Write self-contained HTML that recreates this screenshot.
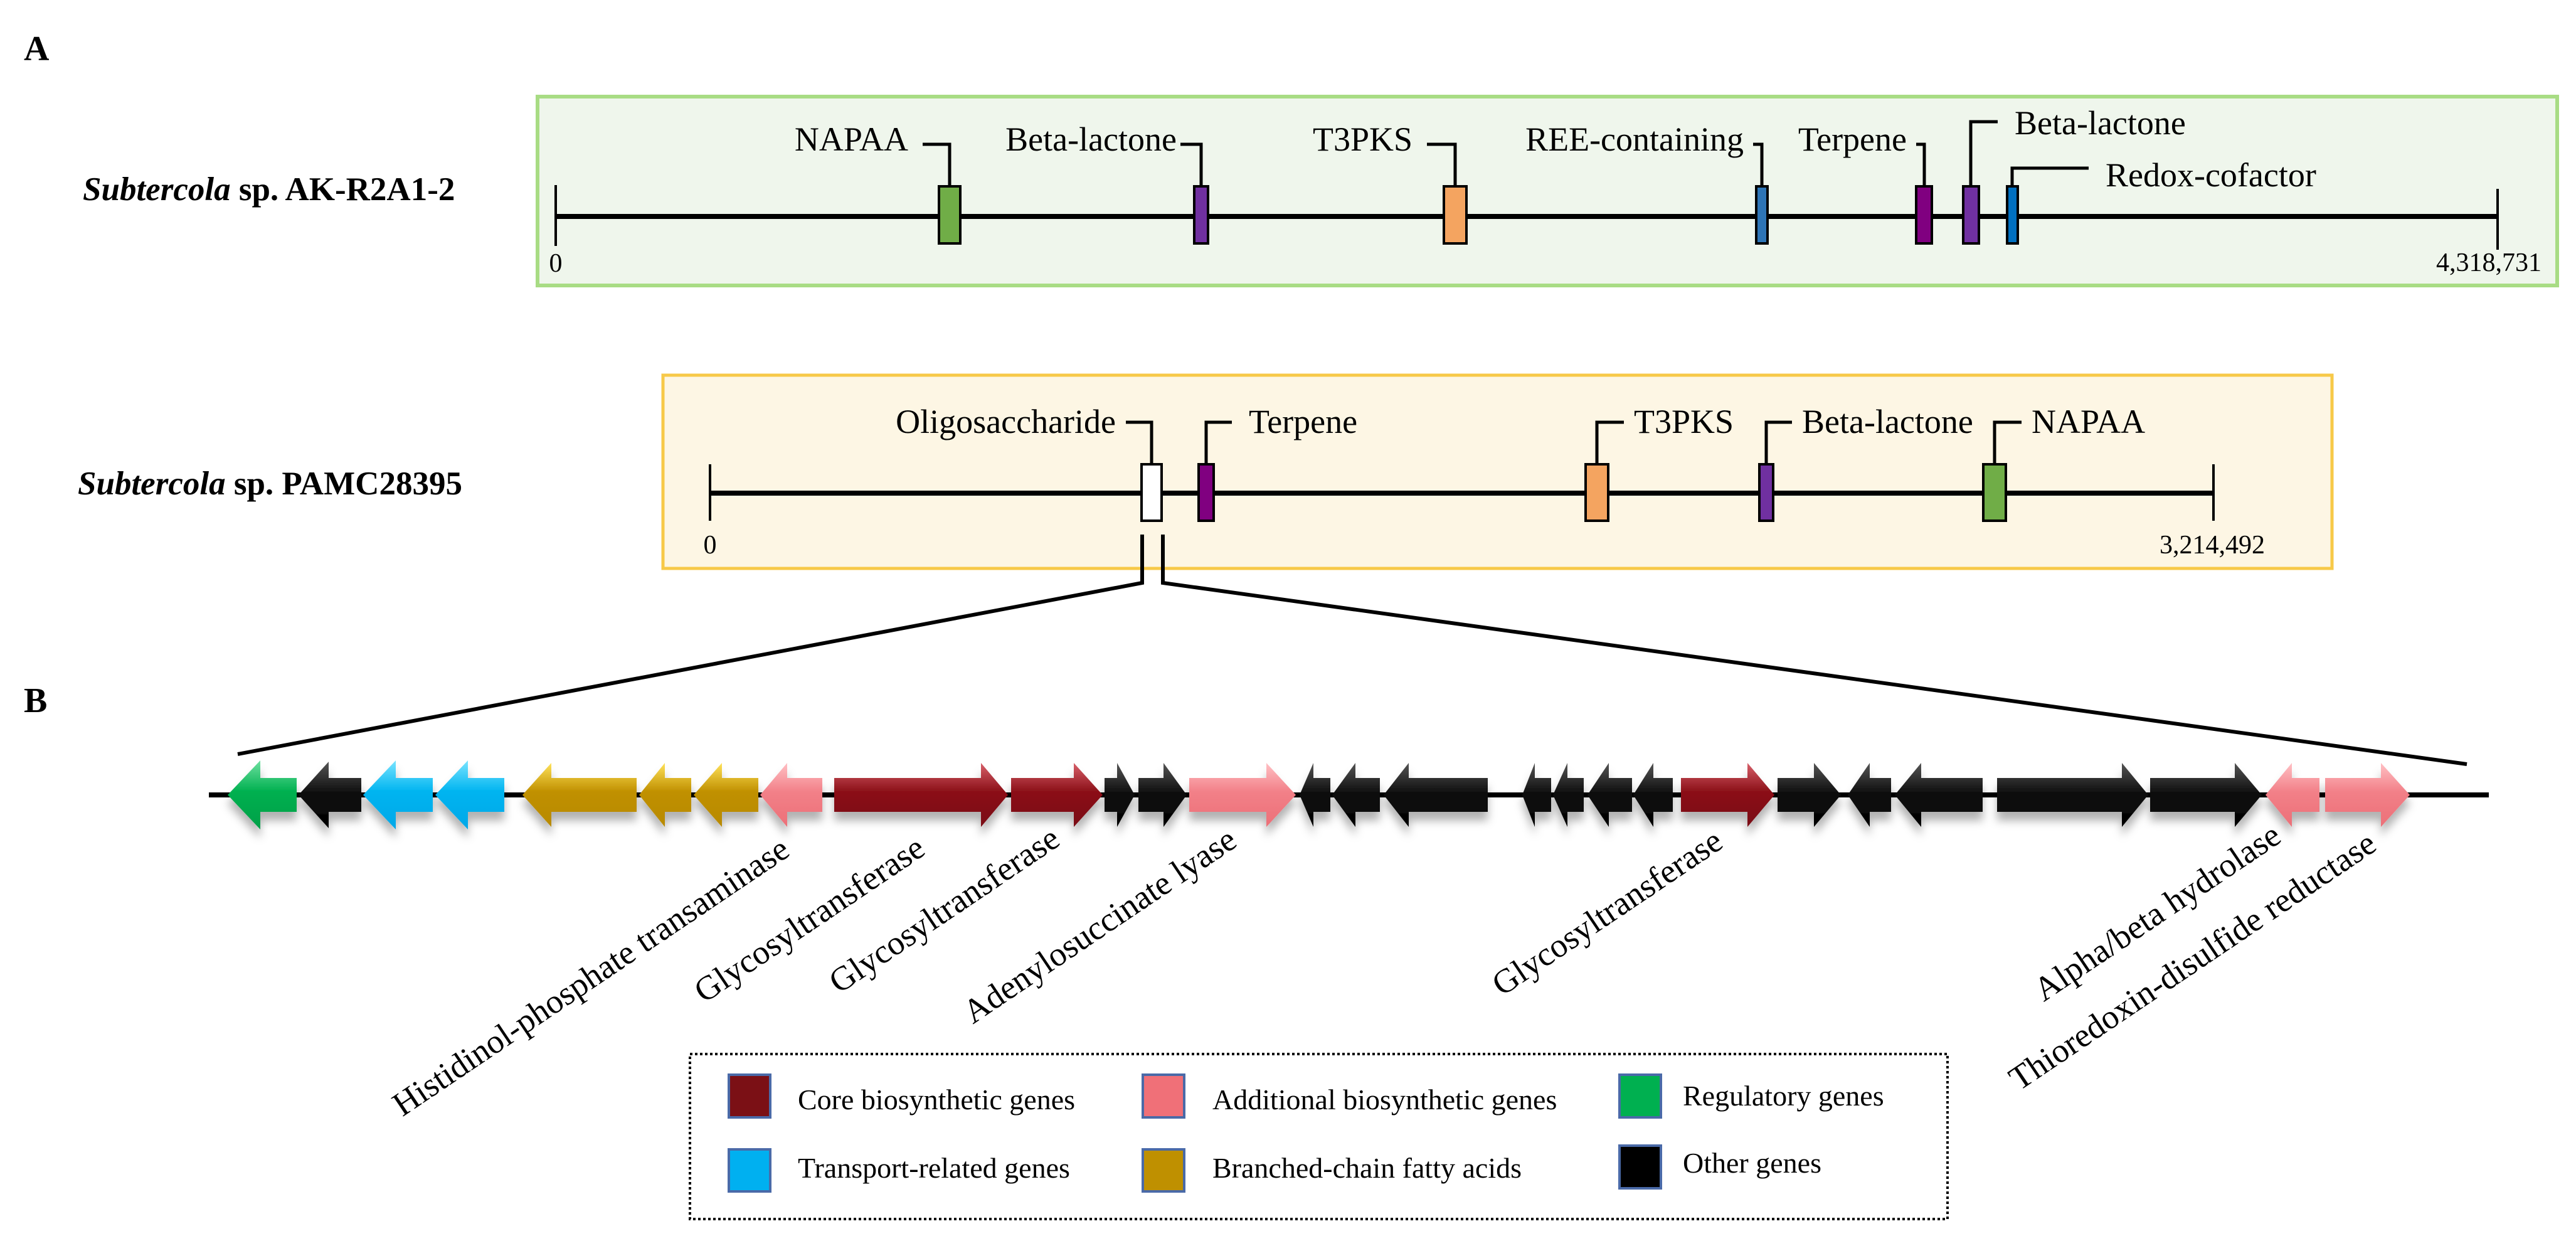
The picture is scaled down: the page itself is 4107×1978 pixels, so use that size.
<!DOCTYPE html>
<html><head><meta charset="utf-8"><style>
html,body{margin:0;padding:0;background:#fff;}
svg{display:block;}
text{font-family:"Liberation Serif","Times New Roman",serif;fill:#000;}
</style></head><body>
<svg width="4107" height="1978" viewBox="0 0 4107 1978" xmlns="http://www.w3.org/2000/svg">
<defs>
<filter id="sh" x="-10%" y="-20%" width="120%" height="160%"><feDropShadow dx="0" dy="14" stdDeviation="7" flood-color="#000" flood-opacity="0.3"/></filter>
<linearGradient id="gG" x1="0" y1="0" x2="0" y2="1"><stop offset="0" stop-color="#6fe0a0"/><stop offset="0.45" stop-color="#00b050"/><stop offset="1" stop-color="#00a048"/></linearGradient>
<linearGradient id="gK" x1="0" y1="0" x2="0" y2="1"><stop offset="0" stop-color="#555"/><stop offset="0.45" stop-color="#111"/><stop offset="1" stop-color="#000"/></linearGradient>
<linearGradient id="gB" x1="0" y1="0" x2="0" y2="1"><stop offset="0" stop-color="#7ae4ff"/><stop offset="0.45" stop-color="#00b4f0"/><stop offset="1" stop-color="#00a8e8"/></linearGradient>
<linearGradient id="gY" x1="0" y1="0" x2="0" y2="1"><stop offset="0" stop-color="#ffe25a"/><stop offset="0.45" stop-color="#c09000"/><stop offset="1" stop-color="#b88a00"/></linearGradient>
<linearGradient id="gP" x1="0" y1="0" x2="0" y2="1"><stop offset="0" stop-color="#ffc0c4"/><stop offset="0.45" stop-color="#f28088"/><stop offset="1" stop-color="#ec7078"/></linearGradient>
<linearGradient id="gR" x1="0" y1="0" x2="0" y2="1"><stop offset="0" stop-color="#d8606a"/><stop offset="0.45" stop-color="#8b1018"/><stop offset="1" stop-color="#7a0c14"/></linearGradient>
</defs>

<text x="38" y="96" font-size="56" font-weight="bold">A</text>
<rect x="857" y="154" width="3220" height="301" fill="#eff6ec" stroke="#a8dc84" stroke-width="6"/>
<text x="132" y="319" font-size="53" font-weight="bold"><tspan font-style="italic">Subtercola</tspan> sp. AK-R2A1-2</text>
<line x1="886" y1="345" x2="3982" y2="345" stroke="#000" stroke-width="8"/>
<line x1="886" y1="295" x2="886" y2="392" stroke="#000" stroke-width="4"/>
<line x1="3982" y1="301" x2="3982" y2="398" stroke="#000" stroke-width="4"/>
<text x="886" y="433" font-size="42" text-anchor="middle">0</text>
<text x="4052" y="432" font-size="42" text-anchor="end">4,318,731</text>
<g fill="none" stroke="#000" stroke-width="5">
<polyline points="1471,230 1514,230 1514,297"/>
<polyline points="1882,230 1915,230 1915,297"/>
<polyline points="2275,230 2320,230 2320,297"/>
<polyline points="2795,230 2809,230 2809,297"/>
<polyline points="3055,230 3068,230 3068,297"/>
<polyline points="3185,194 3142,194 3142,297"/>
<polyline points="3330,268 3208,268 3208,297"/>
</g>
<g stroke="#000" stroke-width="4">
<rect x="1497" y="297" width="34" height="91" fill="#70ad47"/>
<rect x="1904" y="297" width="22" height="91" fill="#7030a0"/>
<rect x="2302" y="297" width="36" height="91" fill="#f4a460"/>
<rect x="2800" y="297" width="18" height="91" fill="#2e75b6"/>
<rect x="3055" y="297" width="25" height="91" fill="#800080"/>
<rect x="3130" y="297" width="25" height="91" fill="#7030a0"/>
<rect x="3200" y="297" width="17" height="91" fill="#0070c0"/>
</g>
<g font-size="54" text-anchor="end">
<text x="1448" y="240">NAPAA</text>
<text x="1876" y="240">Beta-lactone</text>
<text x="2252" y="240">T3PKS</text>
<text x="2780" y="240">REE-containing</text>
<text x="3040" y="240">Terpene</text>
</g>
<text x="3212" y="214" font-size="54">Beta-lactone</text>
<text x="3357" y="297" font-size="54">Redox-cofactor</text>

<rect x="1057" y="598" width="2661" height="308" fill="#fdf6e4" stroke="#f7c948" stroke-width="5"/>
<text x="124" y="788" font-size="53" font-weight="bold"><tspan font-style="italic">Subtercola</tspan> sp. PAMC28395</text>
<line x1="1132" y1="786" x2="3529" y2="786" stroke="#000" stroke-width="8"/>
<line x1="1132" y1="740" x2="1132" y2="830" stroke="#000" stroke-width="4"/>
<line x1="3529" y1="740" x2="3529" y2="830" stroke="#000" stroke-width="4"/>
<text x="1132" y="882" font-size="42" text-anchor="middle">0</text>
<text x="3611" y="882" font-size="42" text-anchor="end">3,214,492</text>
<g fill="none" stroke="#000" stroke-width="5">
<polyline points="1795,673 1836,673 1836,740"/>
<polyline points="1964,673 1923,673 1923,740"/>
<polyline points="2589,673 2546,673 2546,740"/>
<polyline points="2857,673 2816,673 2816,740"/>
<polyline points="3223,673 3180,673 3180,740"/>
</g>
<g stroke="#000" stroke-width="4">
<rect x="1820" y="740" width="32" height="90" fill="#fff"/>
<rect x="1911" y="740" width="24" height="90" fill="#800080"/>
<rect x="2528" y="740" width="36" height="90" fill="#f4a460"/>
<rect x="2805" y="740" width="22" height="90" fill="#7030a0"/>
<rect x="3162" y="740" width="36" height="90" fill="#70ad47"/>
</g>
<text x="1779" y="690" font-size="54" text-anchor="end">Oligosaccharide</text>
<g font-size="54">
<text x="1991" y="690">Terpene</text>
<text x="2605" y="690">T3PKS</text>
<text x="2873" y="690">Beta-lactone</text>
<text x="3239" y="690">NAPAA</text>
</g>

<g fill="none" stroke="#000" stroke-width="6">
<polyline points="1821,852 1821,929 379,1202"/>
<polyline points="1854,852 1854,929 3933,1218"/>
</g>

<text x="38" y="1135" font-size="56" font-weight="bold">B</text>
<line x1="333" y1="1267" x2="3968" y2="1267" stroke="#000" stroke-width="8"/>

<g filter="url(#sh)">
<path d="M473,1240 L415,1240 L415,1212 L363,1267 L415,1322 L415,1294 L473,1294 Z" fill="url(#gG)"/>
<path d="M576,1240 L524,1240 L524,1214 L476,1267 L524,1320 L524,1294 L576,1294 Z" fill="url(#gK)"/>
<path d="M690,1240 L631,1240 L631,1212 L579,1267 L631,1322 L631,1294 L690,1294 Z" fill="url(#gB)"/>
<path d="M804,1240 L746,1240 L746,1212 L694,1267 L746,1322 L746,1294 L804,1294 Z" fill="url(#gB)"/>
<path d="M1015,1240 L879,1240 L879,1216 L833,1267 L879,1318 L879,1294 L1015,1294 Z" fill="url(#gY)"/>
<path d="M1102,1240 L1060,1240 L1060,1216 L1019,1267 L1060,1318 L1060,1294 L1102,1294 Z" fill="url(#gY)"/>
<path d="M1209,1240 L1151,1240 L1151,1216 L1106,1267 L1151,1318 L1151,1294 L1209,1294 Z" fill="url(#gY)"/>
<path d="M1311,1240 L1255,1240 L1255,1216 L1212,1267 L1255,1318 L1255,1294 L1311,1294 Z" fill="url(#gP)"/>
<path d="M1330,1240 L1564,1240 L1564,1216 L1607,1267 L1564,1318 L1564,1294 L1330,1294 Z" fill="url(#gR)"/>
<path d="M1612,1240 L1712,1240 L1712,1216 L1758,1267 L1712,1318 L1712,1294 L1612,1294 Z" fill="url(#gR)"/>
<path d="M1761,1240 L1781,1240 L1781,1216 L1809,1267 L1781,1318 L1781,1294 L1761,1294 Z" fill="url(#gK)"/>
<path d="M1815,1240 L1855,1240 L1855,1216 L1892,1267 L1855,1318 L1855,1294 L1815,1294 Z" fill="url(#gK)"/>
<path d="M1896,1240 L2019,1240 L2019,1216 L2066,1267 L2019,1318 L2019,1294 L1896,1294 Z" fill="url(#gP)"/>
<path d="M2121,1240 L2094,1240 L2094,1216 L2072,1267 L2094,1318 L2094,1294 L2121,1294 Z" fill="url(#gK)"/>
<path d="M2200,1240 L2161,1240 L2161,1216 L2124,1267 L2161,1318 L2161,1294 L2200,1294 Z" fill="url(#gK)"/>
<path d="M2372,1240 L2246,1240 L2246,1216 L2206,1267 L2246,1318 L2246,1294 L2372,1294 Z" fill="url(#gK)"/>
<path d="M2473,1240 L2447,1240 L2447,1216 L2427,1267 L2447,1318 L2447,1294 L2473,1294 Z" fill="url(#gK)"/>
<path d="M2525,1240 L2499,1240 L2499,1216 L2476,1267 L2499,1318 L2499,1294 L2525,1294 Z" fill="url(#gK)"/>
<path d="M2602,1240 L2565,1240 L2565,1216 L2531,1267 L2565,1318 L2565,1294 L2602,1294 Z" fill="url(#gK)"/>
<path d="M2667,1240 L2636,1240 L2636,1216 L2604,1267 L2636,1318 L2636,1294 L2667,1294 Z" fill="url(#gK)"/>
<path d="M2680,1240 L2786,1240 L2786,1216 L2829,1267 L2786,1318 L2786,1294 L2680,1294 Z" fill="url(#gR)"/>
<path d="M2834,1240 L2892,1240 L2892,1216 L2935,1267 L2892,1318 L2892,1294 L2834,1294 Z" fill="url(#gK)"/>
<path d="M3015,1240 L2981,1240 L2981,1216 L2946,1267 L2981,1318 L2981,1294 L3015,1294 Z" fill="url(#gK)"/>
<path d="M3161,1240 L3063,1240 L3063,1216 L3021,1267 L3063,1318 L3063,1294 L3161,1294 Z" fill="url(#gK)"/>
<path d="M3184,1240 L3383,1240 L3383,1216 L3425,1267 L3383,1318 L3383,1294 L3184,1294 Z" fill="url(#gK)"/>
<path d="M3428,1240 L3563,1240 L3563,1216 L3606,1267 L3563,1318 L3563,1294 L3428,1294 Z" fill="url(#gK)"/>
<path d="M3698,1240 L3654,1240 L3654,1216 L3612,1267 L3654,1318 L3654,1294 L3698,1294 Z" fill="url(#gP)"/>
<path d="M3707,1240 L3796,1240 L3796,1216 L3842,1267 L3796,1318 L3796,1294 L3707,1294 Z" fill="url(#gP)"/>
</g>

<g font-size="54" text-anchor="end">
<text transform="translate(1262,1362) rotate(-34)">Histidinol-phosphate transaminase</text>
<text transform="translate(1478,1360) rotate(-34)">Glycosyltransferase</text>
<text transform="translate(1693,1345) rotate(-34)">Glycosyltransferase</text>
<text transform="translate(1975,1347) rotate(-34)">Adenylosuccinate lyase</text>
<text transform="translate(2750,1349) rotate(-34)">Glycosyltransferase</text>
<text transform="translate(3640,1340) rotate(-34)">Alpha/beta hydrolase</text>
<text transform="translate(3792,1353) rotate(-34)">Thioredoxin-disulfide reductase</text>
</g>

<rect x="1100" y="1680" width="2005" height="263" fill="none" stroke="#000" stroke-width="4" stroke-dasharray="4,4"/>
<g stroke="#4a6aa8" stroke-width="4">
<rect x="1162" y="1713" width="66" height="68" fill="#7b1015"/>
<rect x="1822" y="1713" width="66" height="68" fill="#f07078"/>
<rect x="2582" y="1713" width="66" height="68" fill="#00b050"/>
<rect x="1162" y="1832" width="66" height="67" fill="#00b0f0"/>
<rect x="1822" y="1832" width="66" height="67" fill="#bf9000"/>
<rect x="2582" y="1826" width="66" height="68" fill="#000"/>
</g>
<g font-size="46">
<text x="1272" y="1768">Core biosynthetic genes</text>
<text x="1933" y="1768">Additional biosynthetic genes</text>
<text x="2683" y="1762">Regulatory genes</text>
<text x="1272" y="1877">Transport-related genes</text>
<text x="1933" y="1877">Branched-chain fatty acids</text>
<text x="2683" y="1869">Other genes</text>
</g>
</svg>
</body></html>
